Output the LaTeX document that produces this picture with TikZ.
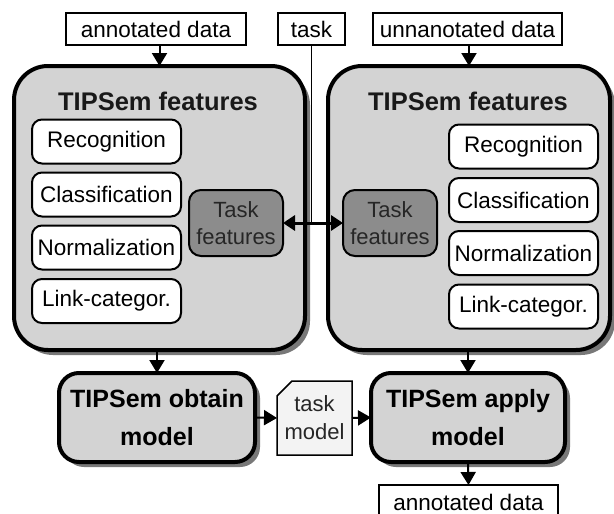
\documentclass[tikz,border=0pt]{standalone}
\usepackage{fontspec}
\setmainfont{Liberation Sans}
\usetikzlibrary{arrows.meta,shadows}
\definecolor{boxgrey}{RGB}{211,211,211}
\definecolor{tfgrey}{RGB}{140,140,140}
\definecolor{shadowgrey}{RGB}{120,120,120}
\definecolor{docfill}{RGB}{243,243,243}
\begin{document}
\begin{tikzpicture}[x=1pt,y=-1pt,
  every node/.style={inner sep=0pt, outer sep=0pt},
  iobox/.style={draw, line width=1.5pt, fill=white, minimum height=32pt, font=\fontsize{22.5}{24}\selectfont},
  bigbox/.style={draw, line width=4pt, rounded corners=34pt, fill=boxgrey,
    drop shadow={shadow xshift=5pt, shadow yshift=-5pt, fill=shadowgrey, opacity=1}},
  procbox/.style={draw, line width=4pt, rounded corners=20pt, fill=boxgrey, align=center,
    font=\fontsize{25}{38}\selectfont\bfseries,
    drop shadow={shadow xshift=5pt, shadow yshift=-5pt, fill=shadowgrey, opacity=1}},
  featbox/.style={draw, line width=2pt, rounded corners=10pt, fill=white,
    minimum width=149pt, minimum height=44pt, font=\fontsize{22.5}{24}\selectfont},
  tfbox/.style={draw, line width=2pt, rounded corners=12pt, fill=tfgrey, align=center,
    minimum width=94pt, minimum height=66pt, text=black!85, font=\fontsize{22}{27}\selectfont},
  titletext/.style={font=\fontsize{25.5}{28}\selectfont\bfseries, text=black!90},
  conn/.style={line width=2pt, -{Triangle[length=13pt,width=15pt]}},
]
\clip (0,0) rectangle (614,514);
\fill[white] (0,0) rectangle (614,514);

% input boxes
\node[iobox, minimum width=180pt] (ann) at (156,29) {annotated data};
\node[iobox, minimum width=67pt] (task) at (311.5,29) {task};
\node[iobox, minimum width=189pt] (unann) at (467.5,29) {unnanotated data};

% big boxes
\node[bigbox, minimum width=291pt, minimum height=284pt] (big1) at (159.5,208) {};
\node[bigbox, minimum width=282pt, minimum height=284pt] (big2) at (469,208) {};

\node[titletext] (t1) at (158,101) {TIPSem features};
\node[titletext] (t2) at (468,101) {TIPSem features};

% left features
\node[featbox] (l1) at (106.5,141.5) {Recognition};
\node[featbox] (l2) at (106.5,194.5) {Classification};
\node[featbox] (l3) at (106.5,247.5) {Normalization};
\node[featbox] (l4) at (106.5,301) {Link-categor.};
% right features
\node[featbox] (r1) at (523.5,146.5) {Recognition};
\node[featbox] (r2) at (523.5,200) {Classification};
\node[featbox] (r3) at (523.5,253) {Normalization};
\node[featbox] (r4) at (523.5,306.5) {Link-categor.};

% task features
\node[tfbox] (tf1) at (236,223) {Task\\features};
\node[tfbox] (tf2) at (390,223) {Task\\features};

% process boxes
\node[procbox, minimum width=196pt, minimum height=89pt] (obtain) at (157,417.5) {TIPSem obtain\\model};
\node[procbox, minimum width=194pt, minimum height=89pt] (apply) at (468,417.5) {TIPSem apply\\model};

% task model document
\node[minimum width=75pt, minimum height=74pt] (tm) at (314.5,418) {};
\filldraw[line width=1.5pt, fill=docfill] (tm.south west) -- (tm.south east) -- (tm.north east)
  -- ([xshift=15pt]tm.north west) -- ([yshift=-15pt]tm.north west) -- cycle;
\node[align=center, font=\fontsize{22}{28}\selectfont, text=black!85] (tmt) at (tm.center) {task\\model};

% output box
\node[iobox, minimum width=179pt, minimum height=34pt, anchor=north] (out) at (468.5,485) {annotated data};

% connectors
\draw[conn] (ann.south -| big1.north) -- (big1.north);
\draw[conn] (unann.south -| big2.north) -- (big2.north);
\coordinate (tj) at (task.south |- tf1.east);
\draw[line width=1.5pt] (task.south) -- (tj);
\draw[line width=3pt, {Triangle[length=12pt,width=15pt]}-{Triangle[length=12pt,width=15pt]}] (tf1.east) -- (tf2.west);
\draw[conn] (obtain.north |- big1.south) -- (obtain.north);
\draw[conn] (apply.north |- big2.south) -- (apply.north);
\draw[conn] (obtain.east) -- (tm.west);
\draw[conn] (tm.east) -- (apply.west);
\draw[conn] (apply.south) -- (out.north);
\end{tikzpicture}
\end{document}
